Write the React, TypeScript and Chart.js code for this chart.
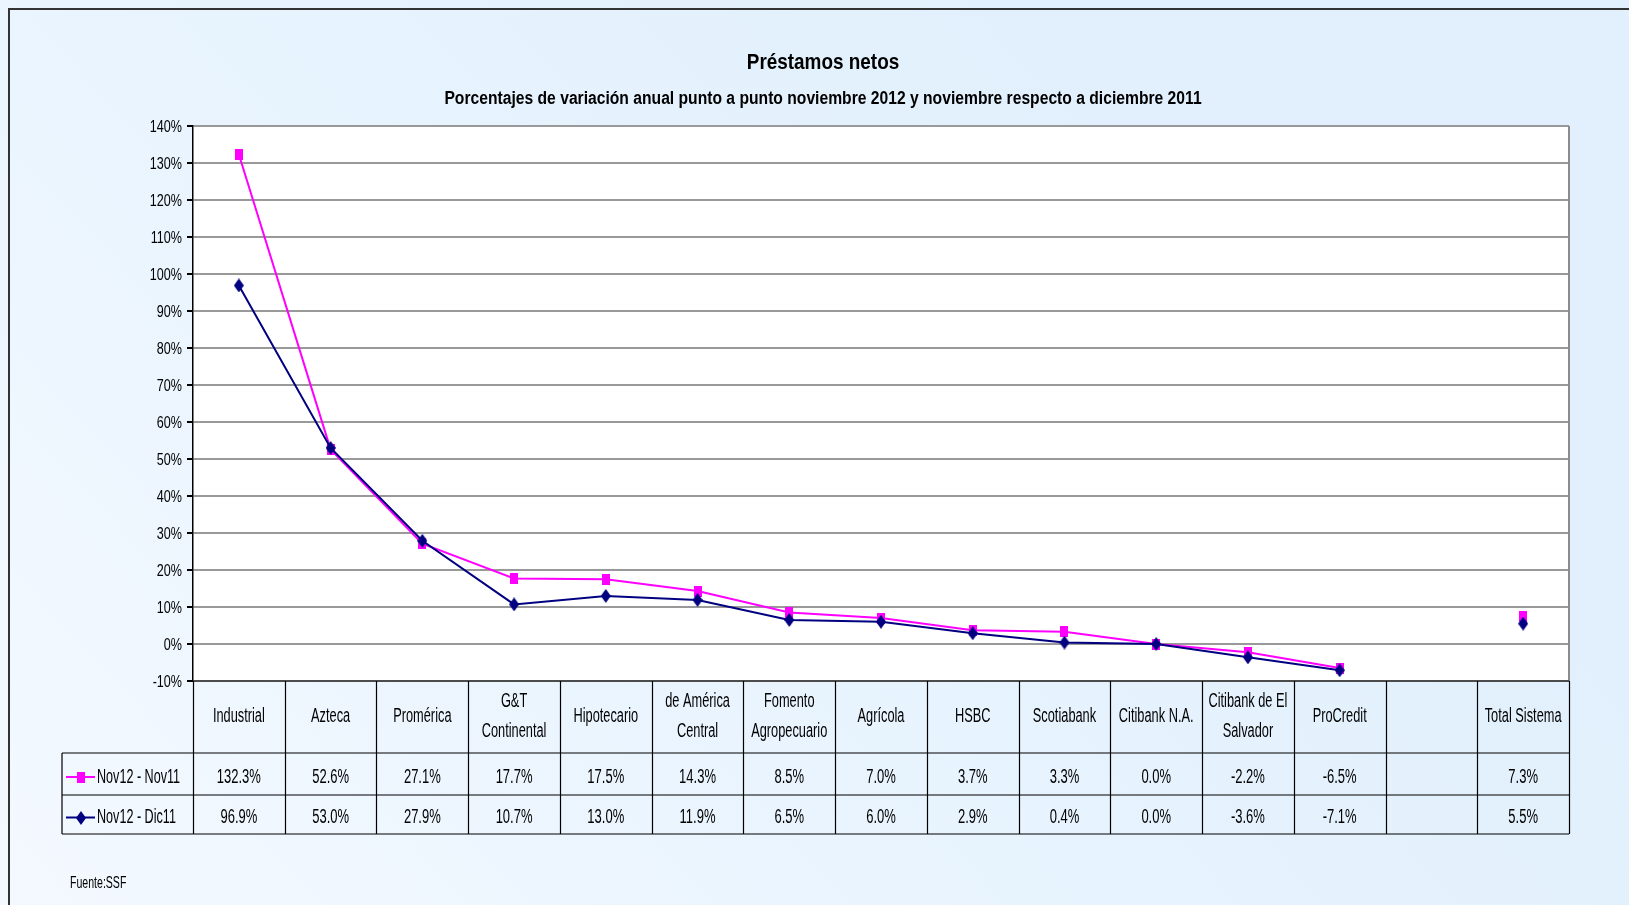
import React, { useEffect, useRef } from "react";
import { Chart, registerables } from "chart.js";
Chart.register(...registerables);

const title = "Préstamos netos";
const subtitle =
  "Porcentajes de variación anual punto a punto noviembre 2012 y noviembre respecto a diciembre 2011";
const sourceNote = "Fuente:SSF";

const categories: (string | string[])[] = [
  "Industrial",
  "Azteca",
  "Promérica",
  ["G&T", "Continental"],
  "Hipotecario",
  ["de América", "Central"],
  ["Fomento", "Agropecuario"],
  "Agrícola",
  "HSBC",
  "Scotiabank",
  "Citibank N.A.",
  ["Citibank de El", "Salvador"],
  "ProCredit",
  "",
  "Total Sistema",
];

const seriesNames = ["Nov12 - Nov11", "Nov12 - Dic11"];
const nov12Nov11: (number | null)[] = [
  132.3, 52.6, 27.1, 17.7, 17.5, 14.3, 8.5, 7.0, 3.7, 3.3, 0.0, -2.2, -6.5, null, 7.3,
];
const nov12Dic11: (number | null)[] = [
  96.9, 53.0, 27.9, 10.7, 13.0, 11.9, 6.5, 6.0, 2.9, 0.4, 0.0, -3.6, -7.1, null, 5.5,
];
const yMin = -10;
const yMax = 140;
const yStep = 10;

const FONT = "'Liberation Sans Narrow', 'Arial Narrow', 'Liberation Sans', Arial, sans-serif";
const W = 1629;
const H = 905;

const colors = ["#FF00FF", "#000080"];

const fmt = (v: number | null) => (v === null ? "" : v.toFixed(1) + "%");

function makeMarker(kind: "rect" | "diamond", color: string): HTMLCanvasElement {
  const c = document.createElement("canvas");
  const w = kind === "rect" ? 8 : 10;
  const h = kind === "rect" ? 11 : 14;
  c.width = w;
  c.height = h;
  const x = c.getContext("2d")!;
  x.fillStyle = color;
  if (kind === "rect") {
    x.fillRect(0, 0, w, h);
  } else {
    x.beginPath();
    x.moveTo(w / 2, 0);
    x.lineTo(w, h / 2);
    x.lineTo(w / 2, h);
    x.lineTo(0, h / 2);
    x.closePath();
    x.fill();
  }
  return c;
}

function sqText(ctx: CanvasRenderingContext2D, t: string, x: number, y: number, k: number) {
  if (!t) return;
  const w = ctx.measureText(t).width;
  ctx.fillText(t, x, y, w * k);
}

export default function App() {
  const ref = useRef<HTMLCanvasElement | null>(null);

  useEffect(() => {
    document.body.style.margin = "0";
    const canvas = ref.current!;
    const rowTops = [681, 753, 795, 834];
    const legendLeft = 62;
    const markers = [makeMarker("rect", colors[0]), makeMarker("diamond", colors[1])];

    const decor = {
      id: "decor",
      beforeDraw(chart: any) {
        const ctx = chart.ctx;
        const ca = chart.chartArea;
        ctx.save();
        const g = ctx.createLinearGradient(0, H, W * 0.6, 0);
        g.addColorStop(0, "#F4F9FF");
        g.addColorStop(0.5, "#E9F4FE");
        g.addColorStop(1, "#E1F0FC");
        ctx.fillStyle = g;
        ctx.fillRect(0, 0, W, H);
        ctx.strokeStyle = "#333";
        ctx.lineWidth = 2;
        ctx.beginPath();
        ctx.moveTo(9, H);
        ctx.lineTo(9, 9);
        ctx.lineTo(W, 9);
        ctx.stroke();
        ctx.fillStyle = "#FFFFFF";
        ctx.fillRect(ca.left, ca.top, ca.right - ca.left, ca.bottom - ca.top);
        ctx.restore();
      },
      afterDraw(chart: any) {
        const ctx = chart.ctx;
        const ca = chart.chartArea;
        const xs = chart.scales.x;
        const ys = chart.scales.y;
        const n = categories.length;
        const cw = (ca.right - ca.left) / n;
        ctx.save();
        // right border of plot
        ctx.strokeStyle = "#8C8C8C";
        ctx.lineWidth = 2;
        ctx.beginPath();
        ctx.moveTo(ca.right, ca.top);
        ctx.lineTo(ca.right, ca.bottom);
        ctx.stroke();

        // y tick labels (condensed)
        ctx.fillStyle = "#000";
        ctx.textAlign = "right";
        ctx.textBaseline = "middle";
        ctx.font = `17px ${FONT}`;
        ys.ticks.forEach((t: any) => {
          sqText(ctx, `${t.value}%`, ca.left - 11, ys.getPixelForValue(t.value) + 1, 0.74);
        });

        // titles
        ctx.textAlign = "center";
        ctx.font = `bold 22px ${FONT}`;
        sqText(ctx, title, 823, 63, 0.86);
        ctx.font = `bold 18px ${FONT}`;
        sqText(ctx, subtitle, 823, 99, 0.87);

        // table lines
        ctx.strokeStyle = "#000";
        ctx.lineWidth = 1.2;
        ctx.beginPath();
        ctx.moveTo(ca.left, rowTops[0]);
        ctx.lineTo(ca.right, rowTops[0]);
        for (let r = 1; r < rowTops.length; r++) {
          ctx.moveTo(legendLeft, rowTops[r]);
          ctx.lineTo(ca.right, rowTops[r]);
        }
        for (let i = 0; i <= n; i++) {
          const x = Math.round(ca.left + i * cw) + 0.5;
          ctx.moveTo(x, rowTops[0]);
          ctx.lineTo(x, rowTops[3]);
        }
        ctx.moveTo(legendLeft, rowTops[1]);
        ctx.lineTo(legendLeft, rowTops[3]);
        ctx.stroke();

        // header labels
        ctx.font = `20px ${FONT}`;
        ctx.fillStyle = "#000";
        ctx.textAlign = "center";
        for (let i = 0; i < n; i++) {
          const x = xs.getPixelForValue(i);
          const lab = categories[i];
          const lines = Array.isArray(lab) ? lab : [lab];
          const cy = (rowTops[0] + rowTops[1]) / 2 - 1;
          const lh = 30;
          lines.forEach((t, k) => {
            sqText(ctx, t, x, cy + (k - (lines.length - 1) / 2) * lh, 0.64);
          });
        }
        // values
        const all = [nov12Nov11, nov12Dic11];
        all.forEach((arr, r) => {
          const cy = (rowTops[r + 1] + rowTops[r + 2]) / 2 + 3;
          ctx.textAlign = "center";
          for (let i = 0; i < n; i++) {
            sqText(ctx, fmt(arr[i]), xs.getPixelForValue(i), cy, 0.65);
          }
          // legend
          const lx0 = legendLeft + 4;
          const lx1 = legendLeft + 33;
          ctx.strokeStyle = colors[r];
          ctx.lineWidth = 2;
          ctx.beginPath();
          ctx.moveTo(lx0, cy);
          ctx.lineTo(lx1, cy);
          ctx.stroke();
          const m = markers[r];
          const mx = (lx0 + lx1) / 2;
          ctx.drawImage(m, Math.round(mx - m.width / 2), Math.round(cy - m.height / 2));
          ctx.fillStyle = "#000";
          ctx.textAlign = "left";
          sqText(ctx, seriesNames[r], lx1 + 2, cy, 0.63);
        });

        ctx.textAlign = "left";
        ctx.font = `16px ${FONT}`;
        sqText(ctx, sourceNote, 70, 884, 0.66);
        ctx.restore();
      },
    };

    const chart = new Chart(canvas, {
      type: "line",
      data: {
        labels: categories.map((c) => (Array.isArray(c) ? c.join(" ") : c)),
        datasets: [
          {
            label: seriesNames[0],
            data: nov12Nov11,
            borderColor: colors[0],
            backgroundColor: colors[0],
            borderWidth: 2,
            pointStyle: markers[0] as any,
            pointRadius: 6,
            spanGaps: false,
            order: 1,
          },
          {
            label: seriesNames[1],
            data: nov12Dic11,
            borderColor: colors[1],
            backgroundColor: colors[1],
            borderWidth: 2,
            pointStyle: markers[1] as any,
            pointRadius: 7,
            spanGaps: false,
            order: 0,
          },
        ],
      },
      options: {
        animation: false,
        responsive: false,
        layout: { padding: { left: 0, top: 126, right: 60, bottom: 224 } },
        plugins: {
          legend: { display: false },
          title: { display: false },
          tooltip: { enabled: false },
        },
        scales: {
          x: {
            type: "category",
            offset: true,
            display: false,
          },
          y: {
            min: yMin,
            max: yMax,
            afterFit(scale: any) {
              scale.width = 193;
            },
            ticks: {
              stepSize: yStep,
              color: "rgba(0,0,0,0)",
              padding: 4,
              font: { family: FONT, size: 16 },
              callback: (v: any) => `${v}%`,
            },
            grid: {
              color: "#999999",
              lineWidth: 2,
              tickLength: 6,
              tickColor: "#000",
              drawTicks: true,
            },
            border: { display: true, color: "#000", width: 1.5 },
          },
        },
      },
      plugins: [decor],
    });
    return () => chart.destroy();
  }, []);

  return (
    <div style={{ position: "absolute", left: 0, top: 0, width: W, height: H }}>
      <canvas ref={ref} width={W} height={H} style={{ width: W, height: H, display: "block" }} />
    </div>
  );
}
